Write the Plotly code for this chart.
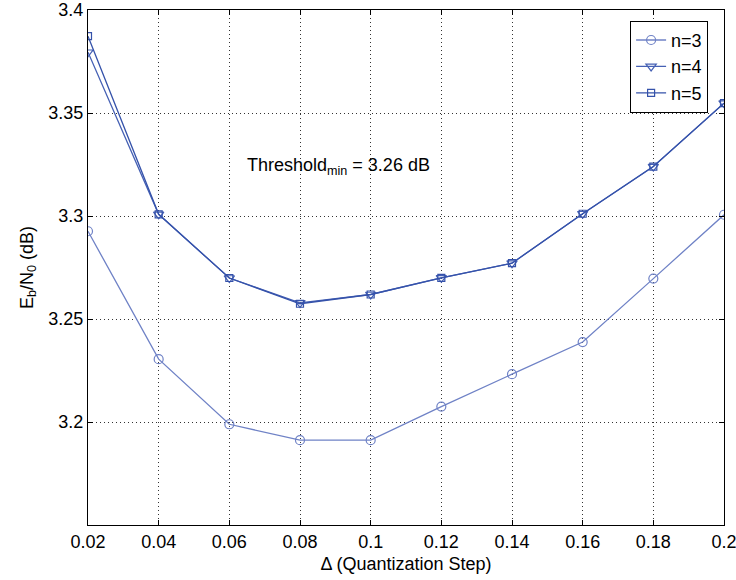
import plotly.graph_objects as go

delta = [0.02, 0.04, 0.06, 0.08, 0.10, 0.12, 0.14, 0.16, 0.18, 0.20]
n3 = [3.2926, 3.2305, 3.1989, 3.1912, 3.1912, 3.2075, 3.2232, 3.2388, 3.2696, 3.3006]
n4 = [3.3795, 3.3008, 3.2699, 3.2578, 3.2619, 3.2700, 3.2771, 3.3011, 3.3240, 3.3548]
n5 = [3.3873, 3.3008, 3.2699, 3.2574, 3.2619, 3.2700, 3.2771, 3.3011, 3.3240, 3.3548]

x_tickvals = [0.02, 0.04, 0.06, 0.08, 0.1, 0.12, 0.14, 0.16, 0.18, 0.2]
x_ticktext = ["0.02", "0.04", "0.06", "0.08", "0.1", "0.12", "0.14", "0.16", "0.18", "0.2"]
y_tickvals = [3.2, 3.25, 3.3, 3.35, 3.4]
y_ticktext = ["3.2", "3.25", "3.3", "3.35", "3.4"]

FONT = "Liberation Sans, Arial, sans-serif"
FS = 18

fig = go.Figure()
fig.add_trace(go.Scatter(x=delta, y=n3, name="n=3", mode="lines+markers",
                         line=dict(color="#6f82c6", width=1.3),
                         marker=dict(symbol="circle-open", size=9, color="#6f82c6", line=dict(width=1.2))))
fig.add_trace(go.Scatter(x=delta, y=n4, name="n=4", mode="lines+markers",
                         line=dict(color="#4560b4", width=1.3),
                         marker=dict(symbol="triangle-down-open", size=9, color="#4560b4", line=dict(width=1.2))))
fig.add_trace(go.Scatter(x=delta, y=n5, name="n=5", mode="lines+markers",
                         line=dict(color="#3552aa", width=1.3),
                         marker=dict(symbol="square-open", size=7, color="#3552aa", line=dict(width=1.2))))

fig.add_annotation(x=0.0644, y=3.324, xref="x", yref="y", xanchor="left", yanchor="middle",
                   text="Threshold<sub>min</sub> = 3.26 dB", showarrow=False,
                   font=dict(family=FONT, size=FS, color="black"))

axis_common = dict(showline=True, linecolor="black", linewidth=1, mirror="ticks",
                   ticks="inside", ticklen=5, tickcolor="black", automargin=False,
                   ticklabeloverflow="allow",
                   showgrid=True, gridcolor="rgba(0,0,0,0.8)", griddash="1px,3px", gridwidth=1,
                   zeroline=False, tickfont=dict(family=FONT, size=FS, color="black"))

fig.update_xaxes(range=[0.02, 0.2], tickvals=x_tickvals, ticktext=x_ticktext,
                 title=dict(text="Δ (Quantization Step)", font=dict(family=FONT, size=FS, color="black"), standoff=6),
                 **axis_common)
fig.update_yaxes(range=[3.15, 3.4], tickvals=y_tickvals, ticktext=y_ticktext,
                 title=dict(text="E<sub>b</sub>/N<sub>0</sub> (dB)", font=dict(family=FONT, size=FS, color="black"), standoff=10),
                 **axis_common)

fig.update_layout(width=736, height=580, margin=dict(l=88, r=12, t=10, b=55),
                  plot_bgcolor="white", paper_bgcolor="white",
                  font=dict(family=FONT, size=FS, color="black"),
                  legend=dict(x=0.975, y=0.979, xanchor="right", yanchor="top",
                              bgcolor="white", bordercolor="black", borderwidth=1,
                              font=dict(family=FONT, size=FS, color="black"),
                              itemwidth=30, tracegroupgap=0),
                  showlegend=True)

fig.write_html("out.html")
